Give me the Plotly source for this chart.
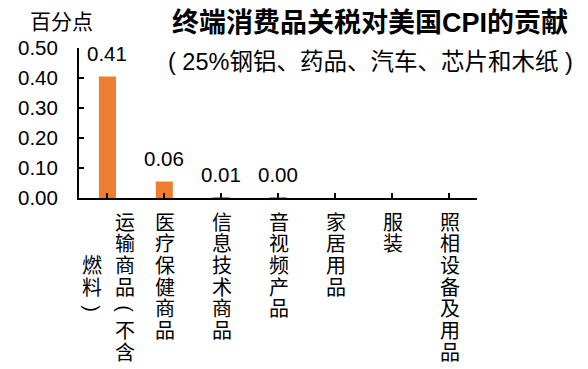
import plotly.graph_objects as go

categories = ["运输商品（不含燃料）", "医疗保健商品", "信息技术商品", "音视频产品", "家居用品", "服装", "照相设备及用品"]
values = [0.405, 0.055, 0.003, 0.001, None, None, None]
labels = ["0.41", "0.06", "0.01", "0.00", None, None, None]
y_ticks = [0.0, 0.1, 0.2, 0.3, 0.4, 0.5]
title_text = "终端消费品关税对美国CPI的贡献"
subtitle_text = "( 25%钢铝、药品、汽车、芯片和木纸 )"
unit_text = "百分点"

FONT = "Liberation Sans, Arial, Noto Sans CJK SC"
CJK = "Liberation Sans, Noto Sans CJK SC"
ORANGE = "#ED7D31"

fig = go.Figure()
fig.add_trace(go.Bar(
    x=list(range(len(categories))), y=values, width=0.3,
    marker=dict(color=ORANGE, line=dict(width=0)),
    hoverinfo="skip",
))

annotations = []
# data labels
for i, (v, lab) in enumerate(zip(values, labels)):
    if lab is None:
        continue
    annotations.append(dict(
        x=i, y=v, xref="x", yref="y", text=lab, showarrow=False,
        yanchor="middle", xanchor="center", yshift=23,
        font=dict(family=FONT, size=20.5, color="#000000"),
    ))

# vertical category labels
rotated = {"（": "(", "）": ")"}
max_col = 7
pitch = 21.7
col_gap = 33
for i, name in enumerate(categories):
    chars = list(name)
    cols = [chars[k:k + max_col] for k in range(0, len(chars), max_col)]
    ncol = len(cols)
    first_len = len(cols[0])
    for ci, col in enumerate(cols):
        xshift = ((ncol - 1) / 2 - ci) * col_gap
        voff = (first_len - len(col)) / 2 * pitch
        for j, ch in enumerate(col):
            is_rot = ch in rotated
            annotations.append(dict(
                x=i, y=0, xref="x", yref="y", text=rotated.get(ch, ch), showarrow=False,
                xanchor="center", yanchor="middle", textangle=90 if is_rot else 0,
                xshift=xshift + 1, yshift=-(24.5 + voff + j * pitch),
                font=dict(family=CJK, size=20, color="#000000"),
            ))

annotations.append(dict(
    x=(370 - 79) / 398, y=(198 - 62) / 150, xref="paper", yref="paper",
    text=subtitle_text, showarrow=False, xanchor="center", yanchor="middle",
    font=dict(family=CJK, size=23.5, color="#000000"),
))
annotations.append(dict(
    x=(61 - 79) / 398, y=(198 - 21) / 150, xref="paper", yref="paper",
    text=unit_text, showarrow=False, xanchor="center", yanchor="middle",
    font=dict(family=CJK, size=21, color="#000000"),
))

fig.update_layout(
    width=588, height=369,
    margin=dict(l=79, r=111, t=48, b=171),
    paper_bgcolor="white", plot_bgcolor="white",
    showlegend=False,
    title=dict(text=f"<b>{title_text}</b>", x=370 / 588, xanchor="center",
               y=1 - 23 / 369, yanchor="middle", yref="container",
               font=dict(family=CJK, size=27, color="#000000")),
    annotations=annotations,
    xaxis=dict(
        range=[-0.5, len(categories) - 0.5], tickmode="array",
        tickvals=list(range(len(categories))), ticktext=[""] * len(categories),
        tickson="boundaries", ticks="inside", ticklen=5, tickwidth=2, tickcolor="#000000",
        showline=True, linecolor="#000000", linewidth=2, showgrid=False, zeroline=False,
        fixedrange=True,
    ),
    yaxis=dict(
        range=[0, 0.5], tickmode="array", tickvals=y_ticks,
        ticktext=[f"{t:.2f}" for t in y_ticks],
        ticks="inside", ticklen=5, tickwidth=2, tickcolor="#000000",
        showline=True, linecolor="#000000", linewidth=2, showgrid=False, zeroline=False,
        ticklabelstandoff=15,
        tickfont=dict(family=FONT, size=20.5, color="#000000"),
        fixedrange=True,
    ),
)

fig.write_html("out.html")
